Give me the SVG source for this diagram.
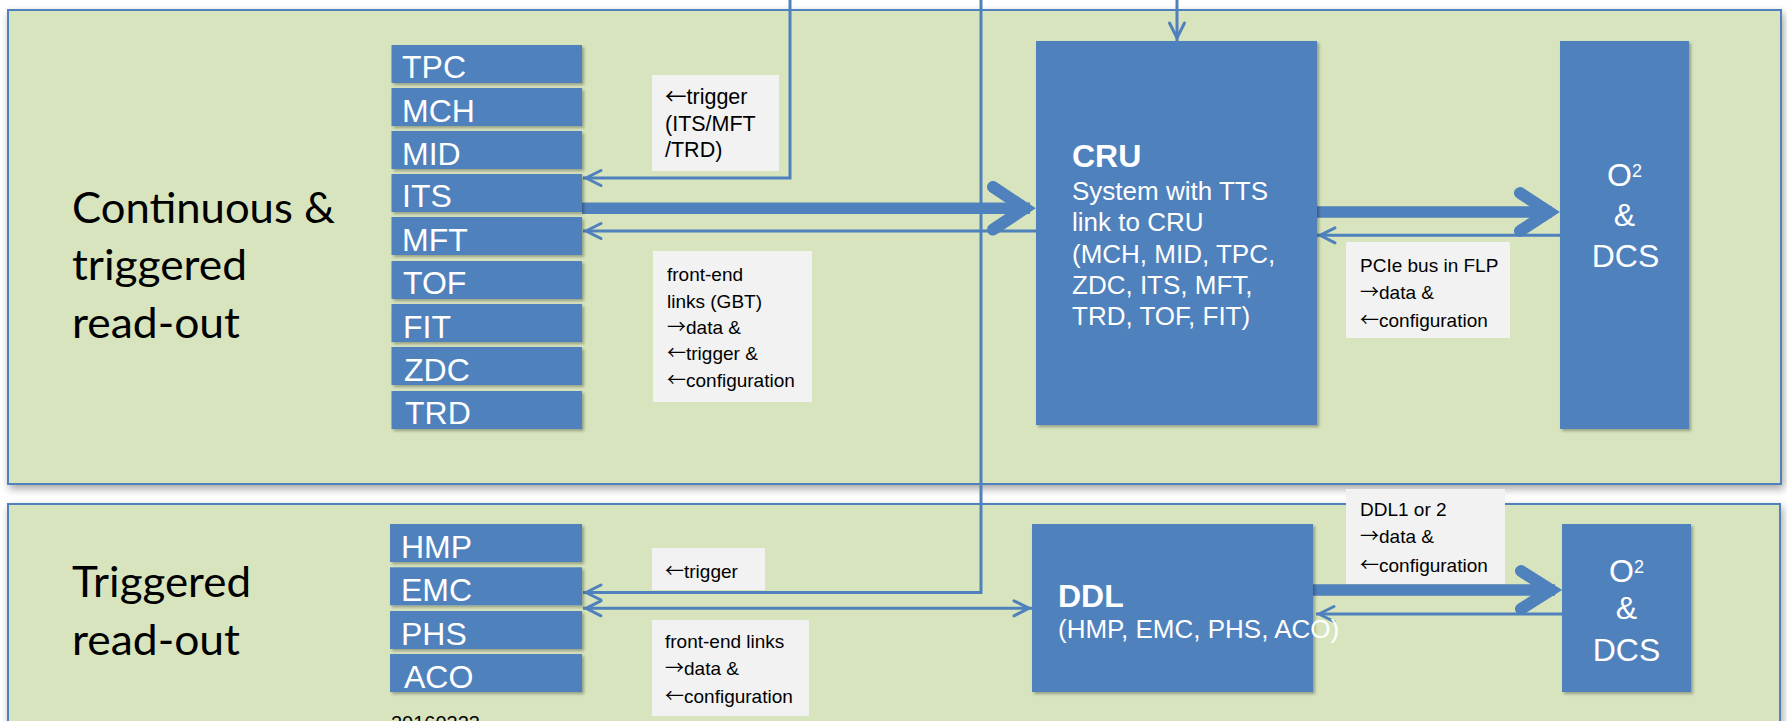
<svg xmlns="http://www.w3.org/2000/svg" width="1787" height="721" viewBox="0 0 1787 721">
<defs>
<style>
.panel{fill:#d7e4bd;stroke:#4f81bd;stroke-width:2;filter:url(#pshadow)}
.box{fill:#4f81bd;filter:url(#bshadow)}
.lbl{fill:#f2f2f2}
.det{font-family:"Liberation Sans",Arial,sans-serif;font-size:32px;fill:#fff}
.big{font-family:Lato,"Liberation Sans",sans-serif;font-size:43px;fill:#000}
.t{font-family:"Liberation Sans",Arial,sans-serif;fill:#000;font-size:19px}
.t1{font-family:"Liberation Sans",Arial,sans-serif;fill:#000;font-size:21.5px}
.ar{font-family:"Noto Sans CJK SC","Noto Sans CJK JP",sans-serif}
.wt{font-family:"Liberation Sans",Arial,sans-serif;fill:#fff}
.thin{fill:none;stroke:#4f81bd;stroke-width:3}
.thick{fill:none;stroke:#4f81bd;stroke-width:11.5}
.chev{fill:none;stroke:#4f81bd;stroke-width:12;stroke-linecap:round;stroke-linejoin:miter}
</style>
<filter id="pshadow" x="-5%" y="-5%" width="110%" height="115%">
<feDropShadow dx="2" dy="4" stdDeviation="4" flood-color="#000" flood-opacity="0.35"/>
</filter>
<filter id="bshadow" x="-10%" y="-10%" width="125%" height="130%">
<feDropShadow dx="2" dy="2" stdDeviation="1.5" flood-color="#000" flood-opacity="0.3"/>
</filter>
<marker id="chv" viewBox="-22 -11 26 22" refX="0" refY="0" markerWidth="26" markerHeight="22" markerUnits="userSpaceOnUse" orient="auto-start-reverse">
<path d="M-18,-7.5 L-3,0 L-18,7.5" fill="none" stroke="#4f81bd" stroke-width="3" stroke-linecap="round"/>
</marker>
</defs>
<rect width="1787" height="721" fill="#fff"/>
<g id="panels">
<rect id="panel-top" class="panel" x="8" y="10" width="1773" height="474"/>
<rect id="panel-bottom" class="panel" x="8" y="504" width="1772" height="240"/>
</g>
<g id="section-labels">
<text class="big" x="72" y="222.7" textLength="263" lengthAdjust="spacingAndGlyphs">Continuous &amp;</text>
<text class="big" x="72" y="280" textLength="175" lengthAdjust="spacingAndGlyphs">triggered</text>
<text class="big" x="72" y="337.5" textLength="168" lengthAdjust="spacingAndGlyphs">read-out</text>
<text class="big" x="72" y="597.3" textLength="179" lengthAdjust="spacingAndGlyphs">Triggered</text>
<text class="big" x="72" y="655" textLength="168" lengthAdjust="spacingAndGlyphs">read-out</text>
</g>
<g id="connectors">
<path class="thin" d="M790,0 V178 H583" marker-end="url(#chv)"/>
<path class="thick" d="M582,208.3 H1030"/>
<polyline class="chev" points="993,187 1025,208.3 993,229.6"/>
<path class="thin" d="M1036,231 H583" marker-end="url(#chv)"/>
<path class="thin" d="M981,0 V592.5 H583" marker-end="url(#chv)"/>
<path class="thin" d="M583,608.3 H1032" marker-start="url(#chv)" marker-end="url(#chv)"/>
<path class="thin" d="M1177,0 V41" marker-end="url(#chv)"/>
<path class="thick" d="M1317,212 H1552"/>
<polyline class="chev" points="1520,193 1549,212 1520,231"/>
<path class="thin" d="M1560,235.3 H1317" marker-end="url(#chv)"/>
<path class="thick" d="M1313,590 H1555"/>
<polyline class="chev" points="1521,571 1551,590 1521,609"/>
<path class="thin" d="M1562,614 H1316" marker-end="url(#chv)"/>
</g>
<g id="TPC"><rect class="box" x="391.5" y="45" width="190.5" height="38"/><text class="det" x="402" y="78">TPC</text></g>
<g id="MCH"><rect class="box" x="391.5" y="88" width="190.5" height="38"/><text class="det" x="402" y="121.5">MCH</text></g>
<g id="MID"><rect class="box" x="391.5" y="131" width="190.5" height="38"/><text class="det" x="402" y="164.5">MID</text></g>
<g id="ITS"><rect class="box" x="391.5" y="174" width="190.5" height="38"/><text class="det" x="402" y="207">ITS</text></g>
<g id="MFT"><rect class="box" x="391.5" y="217" width="190.5" height="38"/><text class="det" x="402" y="250.5">MFT</text></g>
<g id="TOF"><rect class="box" x="391.5" y="261" width="190.5" height="38"/><text class="det" x="403" y="294">TOF</text></g>
<g id="FIT"><rect class="box" x="391.5" y="304" width="190.5" height="38"/><text class="det" x="403" y="337.5">FIT</text></g>
<g id="ZDC"><rect class="box" x="391.5" y="347" width="190.5" height="38"/><text class="det" x="404" y="380.5">ZDC</text></g>
<g id="TRD"><rect class="box" x="391.5" y="391" width="190.5" height="38"/><text class="det" x="405" y="424">TRD</text></g>
<g id="HMP"><rect class="box" x="390" y="524" width="192" height="38"/><text class="det" x="401" y="558">HMP</text></g>
<g id="EMC"><rect class="box" x="390" y="567.3" width="192" height="38"/><text class="det" x="401" y="601">EMC</text></g>
<g id="PHS"><rect class="box" x="390" y="611" width="192" height="38"/><text class="det" x="401" y="644.5">PHS</text></g>
<g id="ACO"><rect class="box" x="390" y="654" width="192" height="38"/><text class="det" x="404" y="688">ACO</text></g>
<g id="CRU">
<rect class="box" x="1036" y="41" width="281" height="384"/>
<text class="wt" x="1072" y="166.7" font-size="32" font-weight="bold">CRU</text>
<text class="wt" font-size="26"><tspan x="1072" y="200">System with TTS</tspan><tspan x="1072" y="231">link to CRU</tspan><tspan x="1072" y="262.5">(MCH, MID, TPC,</tspan><tspan x="1072" y="293.5">ZDC, ITS, MFT,</tspan><tspan x="1072" y="324.5">TRD, TOF, FIT)</tspan></text>
</g>
<g id="O2-top">
<rect class="box" x="1560" y="41" width="129" height="388"/>
<text class="wt" x="1624.5" y="185.5" font-size="32" text-anchor="middle">O<tspan font-size="18" dy="-9">2</tspan></text>
<text class="wt" x="1624.5" y="225.5" font-size="32" text-anchor="middle">&amp;</text>
<text class="wt" x="1625.5" y="266.7" font-size="32" text-anchor="middle">DCS</text>
</g>
<g id="DDL">
<rect class="box" x="1032" y="524" width="281" height="168"/>
<text class="wt" x="1058" y="606.7" font-size="32" font-weight="bold">DDL</text>
<text class="wt" x="1058" y="638.3" font-size="26">(HMP, EMC, PHS, ACO)</text>
</g>
<g id="O2-bottom">
<rect class="box" x="1562" y="524" width="129" height="168"/>
<text class="wt" x="1626.5" y="581.7" font-size="32" text-anchor="middle">O<tspan font-size="18" dy="-9">2</tspan></text>
<text class="wt" x="1626.5" y="619.3" font-size="32" text-anchor="middle">&amp;</text>
<text class="wt" x="1626.5" y="661" font-size="32" text-anchor="middle">DCS</text>
</g>
<g id="label-trigger-top">
<rect class="lbl" x="652" y="75" width="127" height="96"/>
<text class="t1"><tspan x="665" y="104.3"><tspan class="ar">←</tspan>trigger</tspan><tspan x="665" y="130.5">(ITS/MFT</tspan><tspan x="665" y="157.3">/TRD)</tspan></text>
</g>
<g id="label-gbt">
<rect class="lbl" x="653" y="251" width="159" height="151"/>
<text class="t"><tspan x="667" y="281">front-end</tspan><tspan x="667" y="307.5">links (GBT)</tspan><tspan x="667" y="334"><tspan class="ar">→</tspan>data &amp;</tspan><tspan x="667" y="360.3"><tspan class="ar">←</tspan>trigger &amp;</tspan><tspan x="667" y="386.7"><tspan class="ar">←</tspan>configuration</tspan></text>
</g>
<g id="label-pcie">
<rect class="lbl" x="1346" y="242" width="164" height="96"/>
<text class="t"><tspan x="1360" y="271.7">PCIe bus in FLP</tspan><tspan x="1360" y="299"><tspan class="ar">→</tspan>data &amp;</tspan><tspan x="1360" y="326.7"><tspan class="ar">←</tspan>configuration</tspan></text>
</g>
<g id="label-ddl">
<rect class="lbl" x="1346" y="489" width="159" height="95"/>
<text class="t"><tspan x="1360" y="516">DDL1 or 2</tspan><tspan x="1360" y="543.3"><tspan class="ar">→</tspan>data &amp;</tspan><tspan x="1360" y="571.7"><tspan class="ar">←</tspan>configuration</tspan></text>
</g>
<g id="label-trigger-bottom">
<rect class="lbl" x="652" y="548" width="113" height="42"/>
<text class="t" x="665" y="578.3"><tspan class="ar">←</tspan>trigger</text>
</g>
<g id="label-fe-links">
<rect class="lbl" x="652" y="620" width="157" height="96"/>
<text class="t"><tspan x="665" y="648.3">front-end links</tspan><tspan x="665" y="675"><tspan class="ar">→</tspan>data &amp;</tspan><tspan x="665" y="702.7"><tspan class="ar">←</tspan>configuration</tspan></text>
</g>
<text class="t" x="391" y="730" style="font-size:20px">20160323</text>
</svg>
